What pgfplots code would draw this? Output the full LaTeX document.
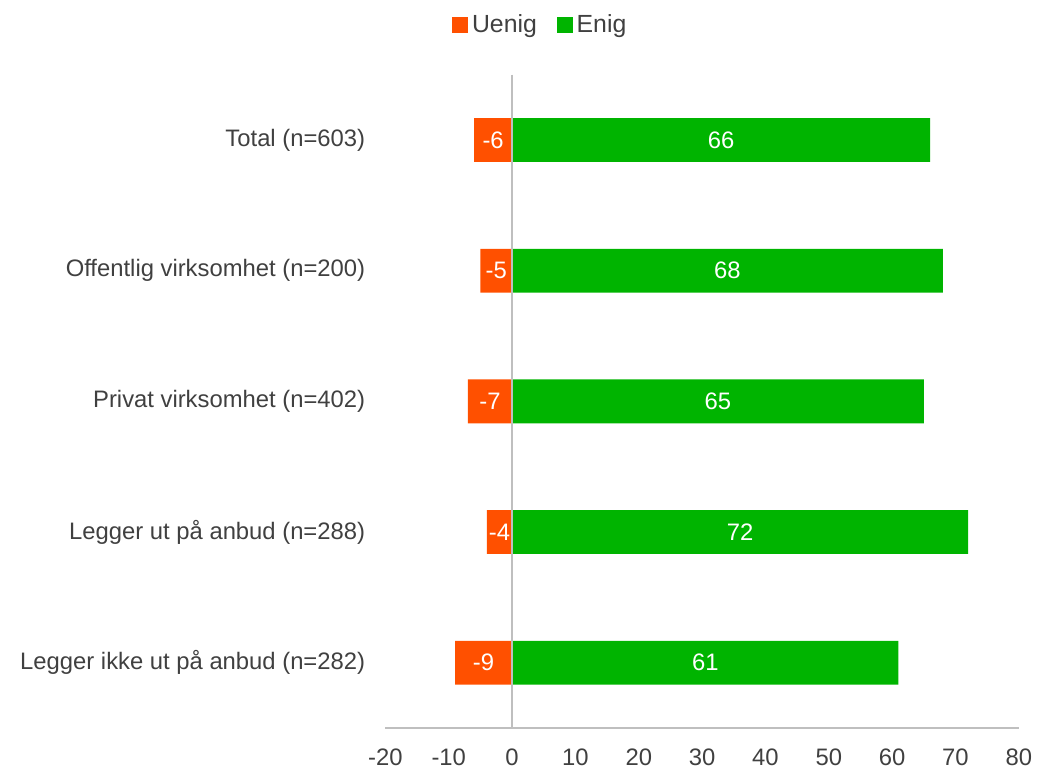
\documentclass[border=0pt]{standalone}
\usepackage{pgfplots}
\usepackage{pgfplotstable}
\pgfplotsset{compat=1.18}
\usepackage{fontspec}
\setmainfont{Liberation Sans}
\definecolor{uenig}{HTML}{FF5000}
\definecolor{enig}{HTML}{00B400}
\definecolor{txt}{HTML}{404040}
\definecolor{axgray}{HTML}{BFBFBF}
\pgfplotstableread{
y val half
0 -6 -3
1 -5 -2.5
2 -7 -3.5
3 -4 -2
4 -9 -4.5
}\uenigtab
\pgfplotstableread{
y val half
0 66 33
1 68 34
2 65 32.5
3 72 36
4 61 30.5
}\enigtab
\begin{document}
\fontsize{12}{14}\selectfont
\begin{tikzpicture}
\begin{axis}[
  name=ax,
  scale only axis,
  width=318bp, height=328bp,
  xmin=-20, xmax=80,
  ymin=-0.5, ymax=4.5,
  y dir=reverse,
  xtick={-20,-10,...,80},
  ytick={0,1,2,3,4},
  yticklabels={Total (n=603),Offentlig virksomhet (n=200),Privat virksomhet (n=402),Legger ut på anbud (n=288),Legger ikke ut på anbud (n=282)},
  axis x line*=bottom,
  axis y line*=left,
  y axis line style={draw=none},
  x axis line style={draw=axgray, line width=0.9pt},
  major tick length=0pt,
  tick style={draw=none},
  /pgf/number format/assume math mode=true,
  ticklabel style={font=\fontsize{12}{14}\selectfont, text=txt},
  xticklabel style={yshift=-6.5bp},
  yticklabel style={xshift=-6bp},
  legend style={at={(0.246,1.076)}, anchor=center, draw=none, fill=none,
    legend columns=2, font=\fontsize{12.5}{14}\selectfont, text=txt,
    /tikz/every even column/.append style={column sep=8bp}},
  legend image code/.code={\fill[#1] (0bp,-4bp) rectangle (8bp,4bp);},
  clip=false,
]
\addplot[xbar, bar width=22bp, bar shift=0pt, fill=uenig, draw=none] table[x=val,y=y] {\uenigtab};
\addlegendentry{Uenig}
\addplot[xbar, bar width=22bp, bar shift=0pt, fill=enig, draw=none] table[x=val,y=y] {\enigtab};
\addlegendentry{Enig}
\draw[axgray, line width=0.9pt] (axis cs:0,-0.5) -- (axis cs:0,4.5);
\addplot[only marks, mark=none, nodes near coords, point meta=explicit symbolic,
  every node near coord/.append style={anchor=center, text=white, font=\fontsize{12}{14}\selectfont}, forget plot]
  table[x=half,y=y,meta=val] {\uenigtab};
\addplot[only marks, mark=none, nodes near coords, point meta=explicit symbolic,
  every node near coord/.append style={anchor=center, text=white, font=\fontsize{12}{14}\selectfont}, forget plot]
  table[x=half,y=y,meta=val] {\enigtab};
\end{axis}
\path[use as bounding box] ([shift={(-193.5bp,-20bp)}]ax.south west) rectangle ([shift={(8.5bp,37.5bp)}]ax.north east);
\end{tikzpicture}
\end{document}
